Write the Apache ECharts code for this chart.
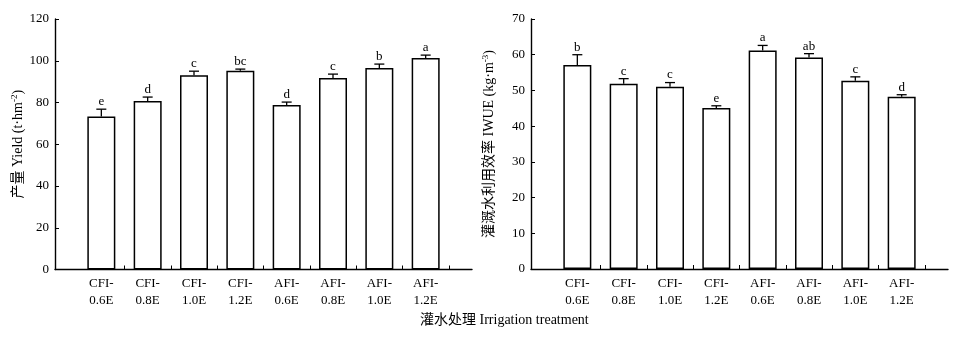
<!DOCTYPE html>
<html>
<head>
<meta charset="utf-8">
<script src="https://cdn.jsdelivr.net/npm/echarts@6/dist/echarts.min.js"></script>
<style>
  html, body { margin: 0; padding: 0; background: #fff; }
  #chart { width: 956px; height: 339px; }
</style>
</head>
<body>
<div id="chart"></div>
<script>
// Irrigation treatments (CFI: conventional furrow, AFI: alternate furrow)
const treatments = ['CFI-0.6E', 'CFI-0.8E', 'CFI-1.0E', 'CFI-1.2E', 'AFI-0.6E', 'AFI-0.8E', 'AFI-1.0E', 'AFI-1.2E'];

// Yield (t·hm^-2): means, standard errors, significance letters
const yieldMean = [73.3, 80.7, 93.1, 95.2, 78.8, 91.7, 96.5, 101.3];
const yieldErr  = [3.5, 1.9, 1.9, 0.8, 1.4, 1.9, 1.9, 1.4];
const yieldSig  = ['e', 'd', 'c', 'bc', 'd', 'c', 'b', 'a'];

// Irrigation water use efficiency IWUE (kg·m^-3)
const iwueMean = [57.1, 51.9, 51.0, 45.1, 61.2, 59.2, 52.7, 48.2];
const iwueErr  = [2.9, 1.4, 1.2, 0.6, 1.4, 1.1, 1.1, 0.6];
const iwueSig  = ['b', 'c', 'c', 'e', 'a', 'ab', 'c', 'd'];

// Value-axis tick labels
const yieldTicks = [0, 20, 40, 60, 80, 100, 120];
const iwueTicks  = [0, 10, 20, 30, 40, 50, 60, 70];

const SERIF = '"Liberation Serif", "Times New Roman", "Noto Sans CJK SC", serif';
const BLACK = '#000';

// Treatments sit at x = 1..8; ticks fall between them
const positions = treatments.map((_, i) => i + 1);
const betweenTicks = positions.map(p => p + 0.5);

function xAxisFor(gridIndex) {
  return {
    type: 'value', gridIndex, min: 0, max: 9,
    splitLine: { show: false },
    axisLine: { show: true, lineStyle: { color: BLACK, width: 1.4 } },
    axisTick: { show: true, inside: true, length: 4, customValues: betweenTicks, lineStyle: { color: BLACK, width: 1 } },
    axisLabel: {
      customValues: positions, margin: 6, color: BLACK, fontFamily: SERIF, fontSize: 13, lineHeight: 17,
      formatter: v => { const t = treatments[Math.round(v) - 1]; return t ? t.replace('-', '-\n') : ''; }
    }
  };
}

function yAxisFor(gridIndex, ticks, nameParts, nameGap) {
  return {
    type: 'value', gridIndex,
    min: ticks[0], max: ticks[ticks.length - 1], interval: ticks[1] - ticks[0],
    splitLine: { show: false },
    axisLine: { show: true, lineStyle: { color: BLACK, width: 1.4 } },
    axisTick: { show: true, inside: true, length: 4, lineStyle: { color: BLACK, width: 1 } },
    axisLabel: { color: BLACK, fontFamily: SERIF, fontSize: 13, margin: 6 },
    name: '{t|' + nameParts[0] + '}{s|' + nameParts[1] + '}{t|' + nameParts[2] + '}',
    nameLocation: 'middle', nameRotate: 90, nameGap,
    nameTextStyle: {
      rich: {
        t: { fontFamily: SERIF, fontSize: 14, color: BLACK, lineHeight: 17 },
        s: { fontFamily: SERIF, fontSize: 9, color: BLACK, lineHeight: 17, verticalAlign: 'top' }
      }
    }
  };
}

function barSeries(idx, means) {
  return {
    type: 'bar', xAxisIndex: idx, yAxisIndex: idx, barWidth: 28,
    data: means.map((m, i) => [positions[i], m]),
    itemStyle: { color: '#fff', borderColor: BLACK, borderWidth: 1.5 },
    silent: true
  };
}

function errorSeries(idx, means, errs, sig) {
  return {
    type: 'custom', xAxisIndex: idx, yAxisIndex: idx, z: 5, silent: true,
    data: means.map((m, i) => [positions[i], m, errs[i]]),
    renderItem: (params, api) => {
      const x = api.value(0), m = api.value(1), e = api.value(2);
      const base = api.coord([x, m]);
      const top = api.coord([x, m + e]);
      const cap = 5;
      const stroke = { stroke: BLACK, lineWidth: 1.3 };
      return {
        type: 'group',
        children: [
          { type: 'line', shape: { x1: base[0], y1: base[1], x2: top[0], y2: top[1] }, style: stroke },
          { type: 'line', shape: { x1: top[0] - cap, y1: top[1], x2: top[0] + cap, y2: top[1] }, style: stroke },
          { type: 'text', x: top[0], y: top[1] - 1,
            style: { text: sig[params.dataIndex], align: 'center', verticalAlign: 'bottom',
                     font: '13px ' + SERIF, fill: BLACK } }
        ]
      };
    }
  };
}

const chart = echarts.init(document.getElementById('chart'), null, { renderer: 'canvas' });
chart.setOption({
  backgroundColor: '#fff',
  animation: false,
  grid: [
    { left: 55, top: 19, width: 417, height: 250.5 },
    { left: 531, top: 19, width: 417, height: 250 }
  ],
  xAxis: [xAxisFor(0), xAxisFor(1)],
  yAxis: [
    yAxisFor(0, yieldTicks, ['产量 Yield (t·hm', '-2', ')'], 28),
    yAxisFor(1, iwueTicks, ['灌溉水利用效率 IWUE (kg·m', '-3', ')'], 33)
  ],
  series: [
    barSeries(0, yieldMean), errorSeries(0, yieldMean, yieldErr, yieldSig),
    barSeries(1, iwueMean), errorSeries(1, iwueMean, iwueErr, iwueSig)
  ],
  graphic: [{
    type: 'text', left: 420, top: 313,
    style: { text: '灌水处理 Irrigation treatment', font: '14px ' + SERIF, fill: BLACK }
  }]
});
</script>
</body>
</html>
